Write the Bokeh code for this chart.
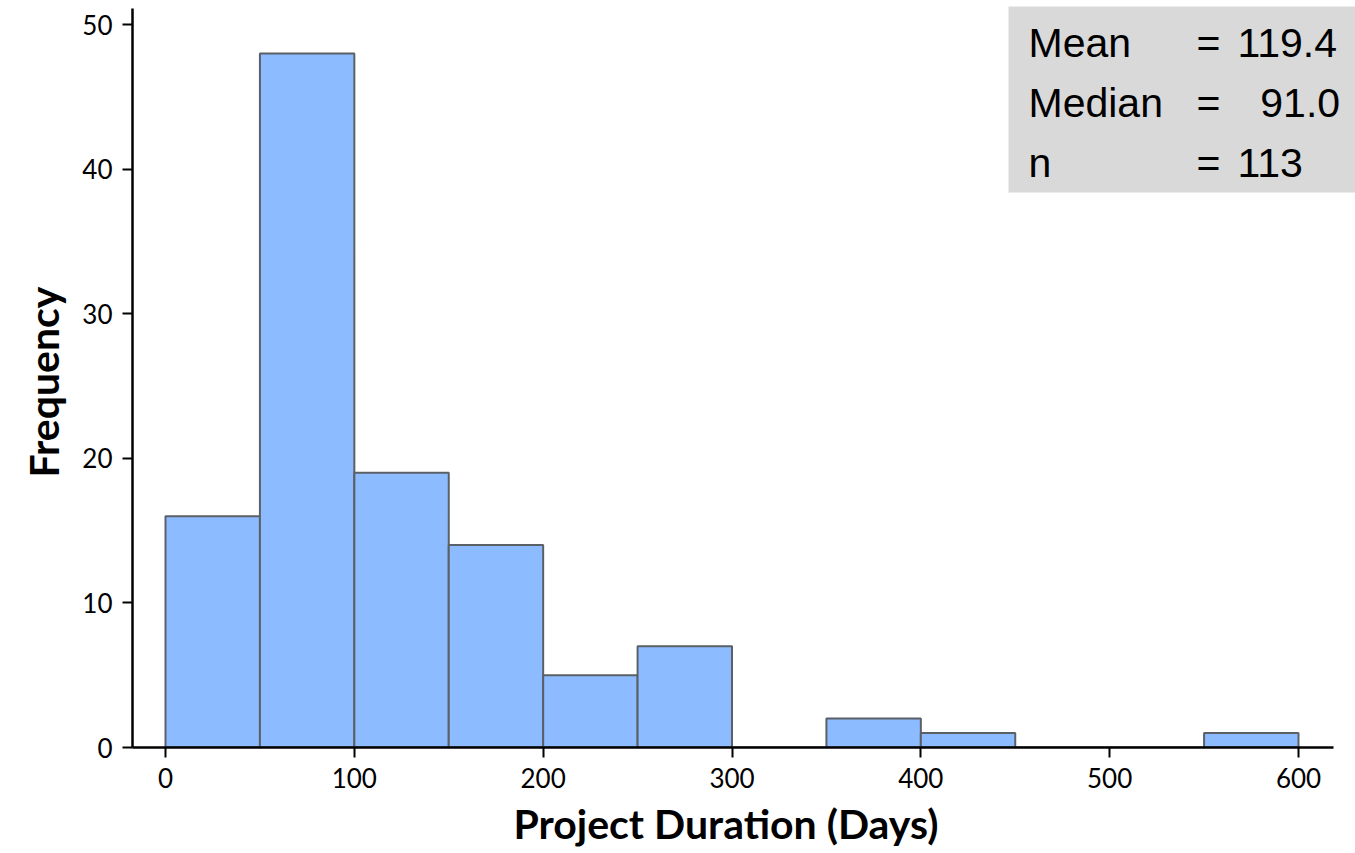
from bokeh.plotting import figure
from bokeh.models import BoxAnnotation, Label, Range1d, FixedTicker, Title
from bokeh.embed import file_html
from bokeh.resources import INLINE

# Histogram of project durations (bin width 50 days)
bin_edges = [0, 50, 100, 150, 200, 250, 300, 350, 400, 450, 500, 550, 600]
counts = [16, 48, 19, 14, 5, 7, 0, 2, 1, 0, 0, 1]

# Summary statistics shown in the corner box
stat_names = ["Mean", "Median", "n"]
stat_values = ["119.4", "\u200791.0", "113"]

x_ticks = [0, 100, 200, 300, 400, 500, 600]
y_ticks = [0, 10, 20, 30, 40, 50]

W, H = 1355, 853
FRAME_LEFT, FRAME_BOTTOM = 132, 747
X0_PX, X_SCALE = 165.0, 1133.0 / 600.0     # pixel of x=0, pixels per day
Y_SCALE = 14.46                             # pixels per count


def px_x(px):
    return (px - X0_PX) / X_SCALE


def px_y(py):
    return (FRAME_BOTTOM - py) / Y_SCALE


p = figure(width=W, height=H, output_backend="svg", toolbar_location=None,
           x_range=Range1d(px_x(FRAME_LEFT), px_x(W)),
           y_range=Range1d(0, px_y(0)),
           min_border_left=FRAME_LEFT, min_border_right=0,
           min_border_top=0, min_border_bottom=H - FRAME_BOTTOM)
p.outline_line_color = None
p.xgrid.grid_line_color = None
p.ygrid.grid_line_color = None
p.background_fill_color = "white"

p.quad(left=bin_edges[:-1], right=bin_edges[1:], bottom=0, top=counts,
       fill_color="#8cbcff", line_color="#5b5f66", line_width=2)

font = "Lato"
for ax in (p.xaxis[0], p.yaxis[0]):
    ax.axis_line_color = "black"
    ax.axis_line_width = 2.5
    ax.major_tick_line_color = "black"
    ax.major_tick_line_width = 2
    ax.major_tick_in = 0
    ax.major_tick_out = 10
    ax.minor_tick_line_color = None
    ax.major_label_text_font = font
    ax.major_label_text_font_size = "26px"
    ax.major_label_text_color = "black"
    ax.major_label_standoff = 10

p.xaxis[0].ticker = FixedTicker(ticks=x_ticks)
p.yaxis[0].ticker = FixedTicker(ticks=y_ticks)
p.xaxis[0].bounds = (px_x(FRAME_LEFT), px_x(1333))
p.yaxis[0].bounds = (0, px_y(8))

# Axis titles, placed along the axis lines rather than the wider frame
title_style = dict(text_font=font, text_font_style="bold",
                   text_font_size="41px", text_color="black")
x_title = Title(text="Project Duration (Days)", align="left",
                offset=513 - FRAME_LEFT, standoff=12, **title_style)
y_title = Title(text="Frequency", align="left", vertical_align="top",
                offset=FRAME_BOTTOM - 477, standoff=20, **title_style)
p.add_layout(x_title, "below")
p.add_layout(y_title, "left")

# Stats box in the top-right corner
p.add_layout(BoxAnnotation(left=px_x(1008), right=px_x(W),
                           top=px_y(6), bottom=px_y(192),
                           fill_color="#d9d9d9", fill_alpha=1.0,
                           line_color=None, level="overlay"))

row_centers = [42.5, 102.5, 162.5]
for name, val, yc in zip(stat_names, stat_values, row_centers):
    common = dict(y=px_y(yc), text_font="Liberation Sans",
                  text_font_size="41px", text_color="black",
                  text_baseline="middle", level="overlay")
    p.add_layout(Label(x=px_x(1028), text=name, **common))
    p.add_layout(Label(x=px_x(1196), text="=", **common))
    p.add_layout(Label(x=px_x(1237), text=val, **common))

open("out.html", "w").write(file_html(p, INLINE))
